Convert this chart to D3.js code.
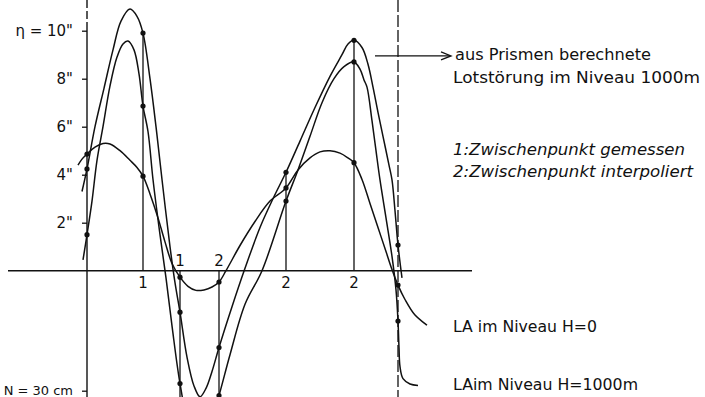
<!DOCTYPE html>
<html>
<head>
<meta charset="utf-8">
<script src="https://cdn.jsdelivr.net/npm/d3@7"></script>
<style>
  body { margin: 0; background: #fff; }
  svg { display: block; }
  text { font-family: "DejaVu Sans", sans-serif; fill: #111; }
</style>
</head>
<body>
<div id="chart"></div>
<script>
// profile distance in km (0 = left axis), deflection eta in arc seconds

// aus Prismen berechnete Lotstörung im Niveau 1000m
const prismen = [[-0.5,3.3],[0,4.24],[0.8,6.0],[1.7,7.6],[2.6,9.2],[3.4,10.4],[4.3,10.9],[5.0,10.6],[5.6,9.9],
  [6.3,8.0],[6.9,6.0],[7.5,3.8],[8.3,1.0],[8.8,-0.5],[9.3,-1.73],[10.0,-3.6],[10.7,-4.8],[11.3,-5.25],
  [11.9,-4.9],[12.5,-4.2],[13.2,-3.2],[14.5,-1.5],[15.8,0.1],[17.3,1.8],[18.6,3.0],[19.9,4.1],[21.3,5.4],
  [22.8,6.8],[24.3,8.1],[25.5,9.0],[26.1,9.45],[26.7,9.6],[27.5,9.3],[28.1,8.6],[28.6,7.65],[29.1,6.6],
  [29.6,5.6],[30.2,4.4],[30.5,3.78],[30.8,2.5],[31.1,1.07],[31.5,-0.3]];

// LA im Niveau H = 1000m
const la1000 = [[-0.4,0.45],[0,1.5],[0.5,2.9],[1.0,4.6],[1.6,6.0],[2.3,7.7],[3.0,8.9],[3.6,9.45],[4.1,9.57],
  [4.7,9.2],[5.2,8.2],[5.6,6.86],[6.1,5.8],[6.6,3.8],[7.3,1.5],[7.9,-0.3],[8.5,-2.3],[9.3,-4.7],[10.1,-6.3],
  [11.0,-7.0],[12.0,-6.6],[12.6,-6.0],[13.2,-5.2],[14.3,-3.5],[15.8,-1.4],[17.5,0],[19.9,2.9],[21.1,4.2],
  [22.3,5.6],[23.5,7.0],[24.7,8.0],[25.7,8.5],[26.7,8.7],[27.3,8.4],[27.7,7.95],[28.0,7.65],[28.5,6.25],
  [28.9,5.0],[29.3,3.78],[29.9,2.2],[30.5,0.6],[30.9,-0.8],[31.1,-2.1],[31.2,-3.2],[31.3,-4.0],[31.6,-4.5],
  [32.3,-4.72],[33.1,-4.78]];

// LA im Niveau H = 0
const la0 = [[-0.9,4.4],[-0.5,4.65],[0,4.86],[0.8,5.15],[1.6,5.3],[2.3,5.28],[3.3,5.0],[4.3,4.6],[5.0,4.3],
  [5.6,3.94],[6.3,3.2],[7.1,2.2],[7.8,1.2],[8.5,0.3],[9.3,-0.27],[10.1,-0.65],[10.9,-0.82],[11.7,-0.8],
  [12.5,-0.68],[13.2,-0.47],[13.9,0],[15.3,1.05],[16.8,2.05],[18.3,2.9],[19.9,3.45],[21.1,4.2],[22.3,4.7],
  [23.3,4.95],[24.3,5.0],[25.3,4.9],[26.1,4.7],[26.7,4.5],[27.5,3.8],[28.3,2.8],[29.1,1.8],[29.9,0.8],
  [30.5,0.05],[31.1,-0.6],[31.8,-1.2],[32.8,-1.85],[34.0,-2.27]];

// stations with measured dots
const stationX = [0, 5.6, 9.3, 13.2, 19.9, 26.7, 31.1];
const stationDots = [
  [4.86, 4.24, 1.5], [9.9, 6.86, 3.94], [-0.27, -1.73, -4.7], [-0.47, -3.2, -5.2],
  [4.1, 3.45, 2.9], [9.6, 8.7, 4.5], [1.07, -0.6, -2.1]];

// Zwischenpunkte: position, label, label side, end of vertical line
const midX = [5.6, 9.3, 13.2, 19.9, 26.7];
const midLabel = ["1", "1", "2", "2", "2"];
const midSide = ["below", "above", "above", "below", "below"];
const midEnd = [9.9, -5.4, -5.4, 4.1, 9.6];

const yTicks = [10, 8, 6, 4, 2, -5];
const yTickLabels = ['\u03b7 = 10"', '8"', '6"', '4"', '2"', 'N = 30 cm'];

const width = 705, height = 397;

const x = d3.scaleLinear().domain([0, 31.1]).range([87, 398]);
const y = d3.scaleLinear().domain([0, 10]).range([270.7, 30.7]);

const svg = d3.select("#chart").append("svg")
  .attr("width", width).attr("height", height);

const ink = "#111";

// horizontal axis
svg.append("line")
  .attr("x1", x(-7.9)).attr("x2", x(38.5))
  .attr("y1", y(0)).attr("y2", y(0))
  .attr("stroke", ink).attr("stroke-width", 1.4);

// left axis: dashed at the top, solid below
svg.append("line")
  .attr("x1", x(0)).attr("x2", x(0)).attr("y1", 0).attr("y2", y(10.2))
  .attr("stroke", ink).attr("stroke-width", 1.4).attr("stroke-dasharray", "8,3");
svg.append("line")
  .attr("x1", x(0)).attr("x2", x(0)).attr("y1", y(10.2)).attr("y2", height)
  .attr("stroke", ink).attr("stroke-width", 1.4);

// right dashed border line
svg.append("line")
  .attr("x1", x(31.1)).attr("x2", x(31.1)).attr("y1", 0).attr("y2", height)
  .attr("stroke", ink).attr("stroke-width", 1.3).attr("stroke-dasharray", "12,3");

// y ticks
const yAxis = svg.append("g")
  .attr("transform", "translate(" + x(0) + ",0)")
  .call(d3.axisLeft(y).tickValues(yTicks).tickSize(5).tickPadding(9)
    .tickFormat((d, i) => yTickLabels[i]));
yAxis.select(".domain").remove();
yAxis.selectAll("line").attr("stroke", ink).attr("stroke-width", 1.3);
yAxis.selectAll("text")
  .style("font-family", "DejaVu Sans, sans-serif")
  .style("font-size", d => d == -5 ? "13px" : "15px").attr("fill", ink);

// station verticals
svg.selectAll(".mid")
  .data(midX)
  .join("line")
  .attr("x1", d => x(d)).attr("x2", d => x(d))
  .attr("y1", y(0)).attr("y2", (d, i) => y(midEnd[i]))
  .attr("stroke", ink).attr("stroke-width", 1.3);

svg.selectAll(".midlabel")
  .data(midX)
  .join("text")
  .attr("x", d => x(d))
  .attr("y", (d, i) => midSide[i] == "above" ? y(0) - 5 : y(0) + 17)
  .attr("text-anchor", "middle")
  .style("font-size", "15px")
  .text((d, i) => midLabel[i]);

// curves
const line = d3.line()
  .x(d => x(d[0])).y(d => y(d[1]))
  .curve(d3.curveCatmullRom.alpha(0.5));

svg.selectAll(".curve")
  .data([prismen, la1000, la0])
  .join("path")
  .attr("d", line)
  .attr("fill", "none")
  .attr("stroke", ink)
  .attr("stroke-width", 1.5);

// dots
stationX.forEach((sx, i) => {
  svg.selectAll(".dot" + i)
    .data(stationDots[i])
    .join("circle")
    .attr("cx", x(sx)).attr("cy", d => y(d))
    .attr("r", 2.6).attr("fill", ink);
});

// arrow to the Prismen curve
svg.append("line")
  .attr("x1", x(28.8)).attr("x2", x(36.3))
  .attr("y1", y(8.95)).attr("y2", y(8.95))
  .attr("stroke", ink).attr("stroke-width", 1.2);
svg.append("path")
  .attr("d", "M" + x(35.4) + "," + (y(8.95) - 4) + " L" + x(36.4) + "," + y(8.95) + " L" + x(35.4) + "," + (y(8.95) + 4))
  .attr("fill", "none").attr("stroke", ink).attr("stroke-width", 1.3);

// annotations
const notes = [
  { t: "aus Prismen berechnete", u: 36.8, v: 8.78, w: 196, s: "normal" },
  { t: "Lotstörung  im Niveau  1000m", u: 36.6, v: 7.82, w: 247, s: "normal" },
  { t: "1:Zwischenpunkt gemessen", u: 36.6, v: 4.82, w: 232, s: "italic" },
  { t: "2:Zwischenpunkt interpoliert", u: 36.6, v: 3.9, w: 240, s: "italic" },
  { t: "LA im Niveau  H=0", u: 36.6, v: -2.55, w: 144, s: "normal" },
  { t: "LAim Niveau  H=1000m", u: 36.6, v: -4.97, w: 185, s: "normal" }
];
svg.selectAll(".note")
  .data(notes)
  .join("text")
  .attr("x", d => x(d.u)).attr("y", d => y(d.v))
  .attr("textLength", d => d.w)
  .attr("lengthAdjust", "spacingAndGlyphs")
  .style("font-size", "15px")
  .style("font-style", d => d.s)
  .text(d => d.t);
</script>
</body>
</html>
